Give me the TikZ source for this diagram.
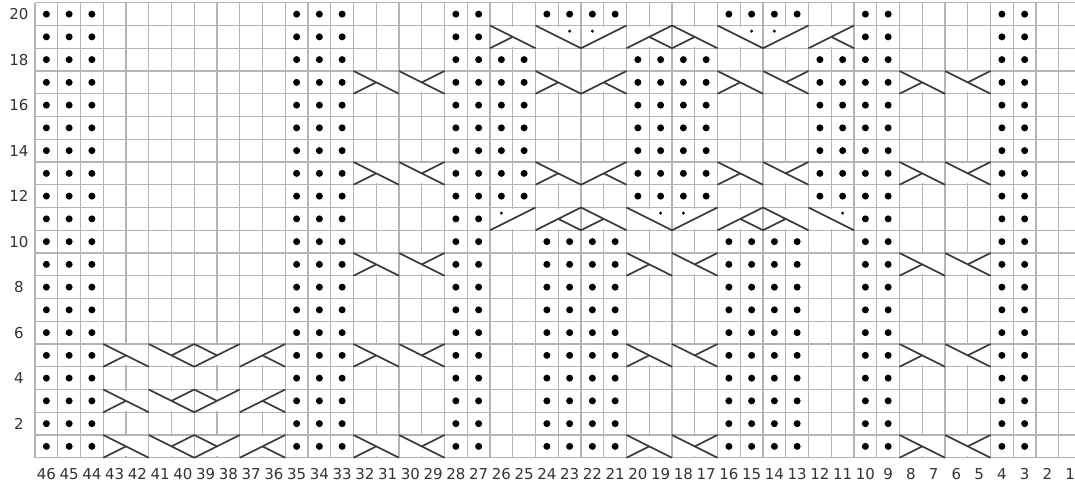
\documentclass[tikz,border=0pt]{standalone}
\usepackage{fontspec}
\setmainfont{DejaVu Sans}
\definecolor{gridc}{HTML}{B4B4B4}
\definecolor{cablec}{HTML}{3A3A3A}
\definecolor{labc}{HTML}{333333}
\tikzset{
  gridline/.style={gridc, line width=1.1pt},
  cab/.style={cablec, line width=1.7pt},
  purl/.style={fill=black},
  lab/.style={labc, font=\fontsize{15}{18}\selectfont, inner sep=0pt, anchor=center},
}
% symbol helpers: #1 = left column number, #2 = row number
\newcommand\symbg[2]{\fill[white] ({46-#1+0.06},{20-#2+0.06}) rectangle ({46-#1+1.94},{20-#2+0.94});}
\newcommand\cabA[2]{\symbg{#1}{#2}\draw[cab] ({46-#1},{20-#2}) -- ++(2,1); \draw[cab] ({46-#1},{21-#2}) -- ++(1,-0.5);}
\newcommand\cabB[2]{\symbg{#1}{#2}\draw[cab] ({46-#1},{20-#2}) -- ++(2,1); \draw[cab] ({47-#1},{20.5-#2}) -- ++(1,-0.5);}
\newcommand\cabC[2]{\symbg{#1}{#2}\draw[cab] ({46-#1},{21-#2}) -- ++(2,-1); \draw[cab] ({46-#1},{20-#2}) -- ++(1,0.5);}
\newcommand\cabD[2]{\symbg{#1}{#2}\draw[cab] ({46-#1},{21-#2}) -- ++(2,-1); \draw[cab] ({47-#1},{20.5-#2}) -- ++(1,0.5);}
\newcommand\cabP[2]{\symbg{#1}{#2}\draw[cab] ({46-#1},{20-#2}) -- ++(2,1); \fill[black] ({47.5-#1},{20.25-#2}) circle[radius=1.6pt];}
\newcommand\cabQ[2]{\symbg{#1}{#2}\draw[cab] ({46-#1},{21-#2}) -- ++(2,-1); \fill[black] ({46.5-#1},{20.25-#2}) circle[radius=1.6pt];}
\newcommand\pd[2]{\fill[purl] ({46-#1+0.5},{20-#2+0.5}) circle[radius=3.5pt];}
\begin{document}
\begin{tikzpicture}[x=1pt,y=-1pt]
\useasboundingbox (0,0) rectangle (1075,484);
\fill[white] (0,0) rectangle (1075,484);
\clip (0,0) rectangle (1075,484);
\begin{scope}[shift={(35pt,-2.75pt)}, x=22.75pt, y=-22.75pt]
  % grid
  \foreach \i in {0,...,46} \draw[gridline] (\i,0) -- (\i,20);
  \foreach \j in {0,...,20} \draw[gridline] (0,\j) -- (46,\j);
  % purl dots
  \foreach \c in {46,45,44,35,34,33,28,27,10,9,4,3}
    \foreach \r in {1,...,20} {\pd{\c}{\r}}
  \foreach \c in {24,23,22,21,16,15,14,13}
    \foreach \r in {1,...,10,20} {\pd{\c}{\r}}
  \foreach \c in {26,25,20,19,18,17,12,11}
    \foreach \r in {12,...,18} {\pd{\c}{\r}}
  % cables
  \foreach \r in {1,3,5} {\cabA{43}{\r}\cabB{41}{\r}\cabC{39}{\r}\cabD{37}{\r}}
  \foreach \r in {1,5,9,13,17} {\cabA{32}{\r}\cabB{30}{\r}\cabA{8}{\r}\cabB{6}{\r}}
  \foreach \r in {1,5,9} {\cabA{20}{\r}\cabB{18}{\r}}
  \foreach \r in {13,17} {\cabA{24}{\r}\cabD{22}{\r}\cabA{16}{\r}\cabB{14}{\r}}
  \cabQ{26}{11}\cabD{24}{11}\cabA{22}{11}\cabP{20}{11}\cabQ{18}{11}\cabD{16}{11}\cabA{14}{11}\cabP{12}{11}
  \cabA{26}{19}\cabP{24}{19}\cabQ{22}{19}\cabD{20}{19}\cabA{18}{19}\cabP{16}{19}\cabQ{14}{19}\cabD{12}{19}
  % row labels
  \foreach \r in {2,4,...,20}
    \node[lab] (row\r) at ({-16/22.75},{20-\r+0.5}) {\r};
  % column labels
  \foreach \c in {1,...,46}
    \node[lab] (col\c) at ({46-\c+0.5},20.72) {\c};
\end{scope}
\end{tikzpicture}
\end{document}
